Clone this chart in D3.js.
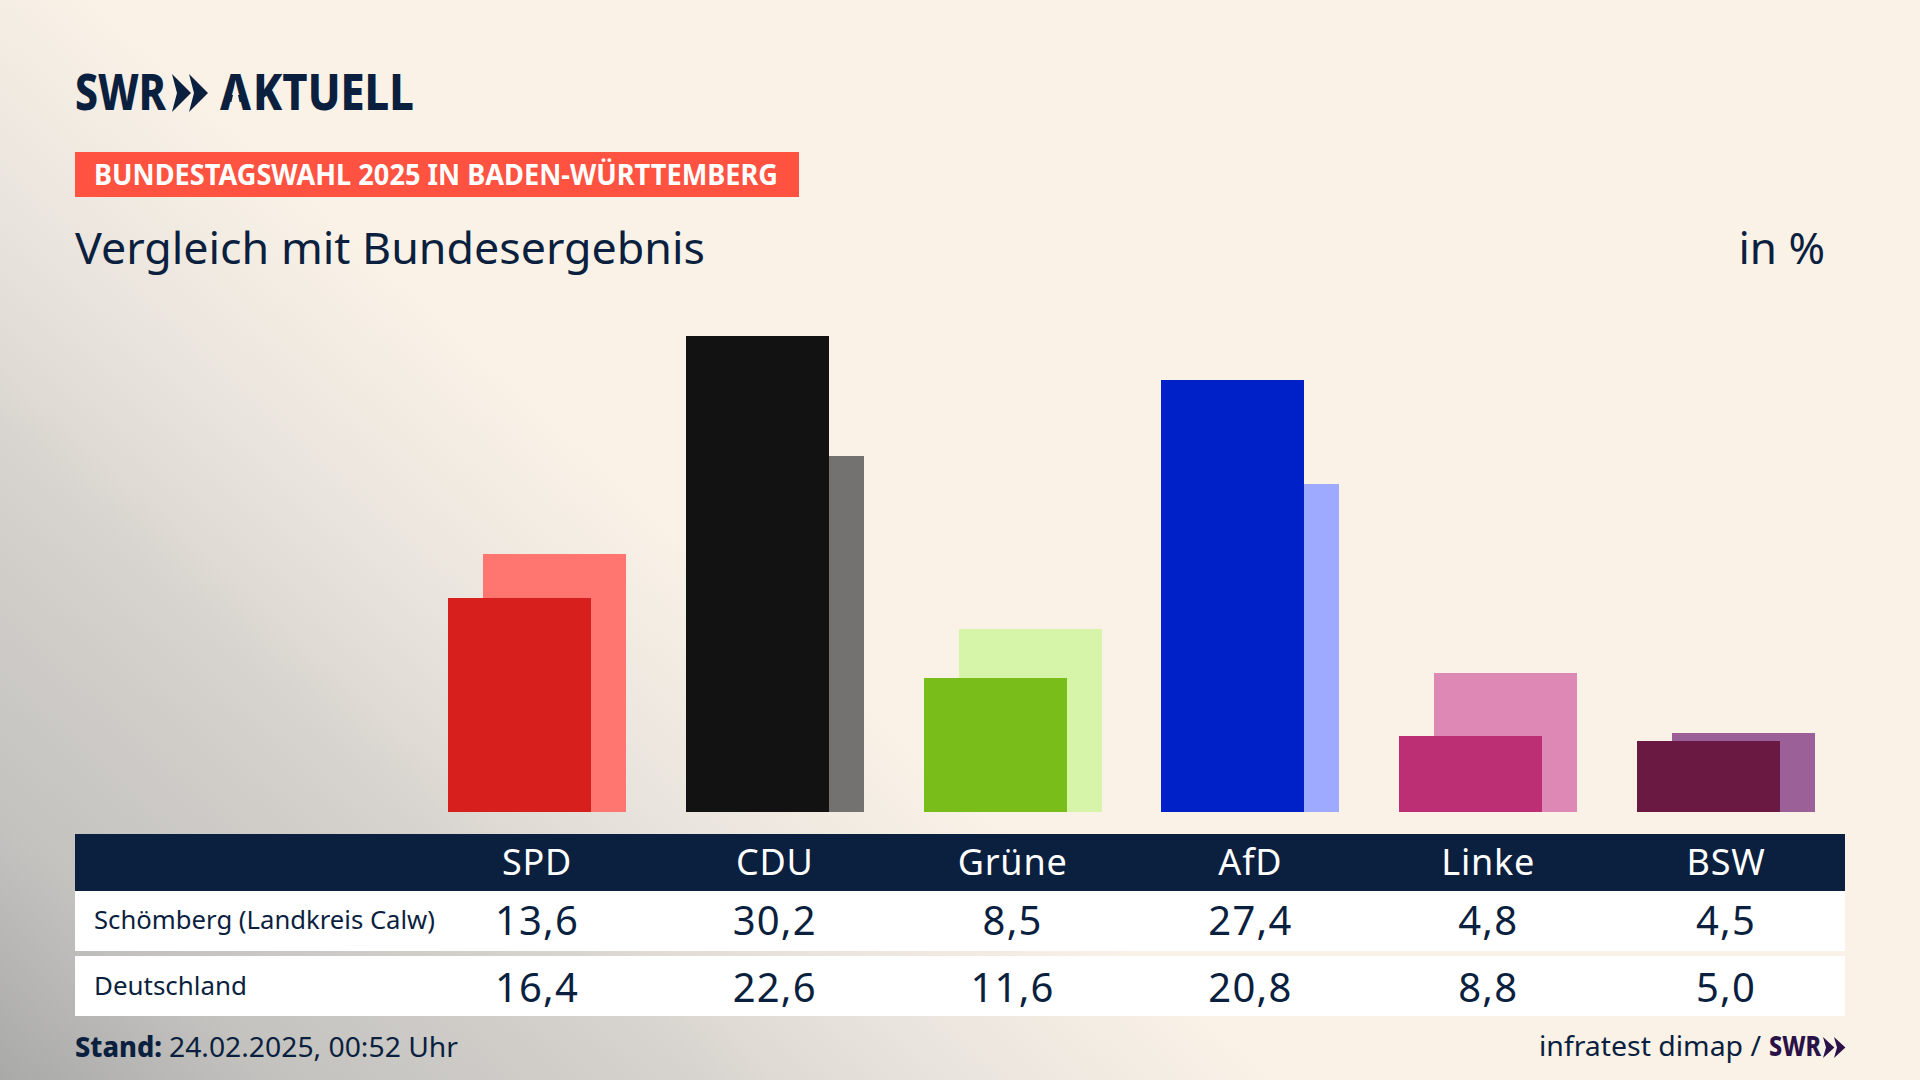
<!DOCTYPE html>
<html>
<head>
<meta charset="utf-8">
<script src="https://cdn.jsdelivr.net/npm/d3@7"></script>
<style>
  html, body { margin: 0; padding: 0; background: #faf2e7; }
  svg { display: block; }
  text { font-family: "Noto Sans", sans-serif; fill: #0b1f3f; }
</style>
</head>
<body>
<svg id="chart"></svg>
<script>
// data
const parties = ["SPD", "CDU", "Grüne", "AfD", "Linke", "BSW"];
const localValues = [13.6, 30.2, 8.5, 27.4, 4.8, 4.5];
const nationalValues = [16.4, 22.6, 11.6, 20.8, 8.8, 5.0];
const localColors = ["#d7201e", "#121212", "#79bd1a", "#0020c8", "#bc2f75", "#6a1a42"];
const nationalColors = ["#ff7670", "#737270", "#d6f5a8", "#9eaaff", "#de88b6", "#9b6097"];
const rowLabels = ["Schömberg (Landkreis Calw)", "Deutschland"];

const width = 1920;
const height = 1080;
const navy = "#0b1f3f";
const cream = "#faf2e7";

const svg = d3.select("#chart").attr("width", width).attr("height", height);

// background, grey corner fading out along the diagonal
const defs = svg.append("defs");
const bg = defs.append("linearGradient")
    .attr("id", "bg")
    .attr("gradientUnits", "userSpaceOnUse")
    .attr("x1", 583).attr("y1", 441)
    .attr("x2", 0).attr("y2", 1080);
[[0, cream], [0.25, "#e9e4dd"], [0.39, "#dfdad4"], [0.44, "#d8d4cf"], [0.78, "#c3c2bf"], [1, "#a9a9a8"]].forEach(s => {
  bg.append("stop").attr("offset", s[0]).attr("stop-color", s[1]);
});
svg.append("rect").attr("width", width).attr("height", height).attr("fill", "url(#bg)");

// scales
const x = d3.scaleBand()
    .domain(parties)
    .range([448, 1815])
    .paddingInner(0.2515)
    .paddingOuter(0);
const y = d3.scaleLinear().domain([0, 30.2]).range([812, 336]);
const barWidth = 143;
const backShift = x.bandwidth() - barWidth;

// bars, national result sits behind the local one
svg.append("g").attr("shape-rendering", "crispEdges").selectAll("rect")
    .data(parties)
    .enter()
    .append("rect")
    .attr("x", d => x(d) + backShift)
    .attr("y", (d, i) => y(nationalValues[i]))
    .attr("width", barWidth)
    .attr("height", (d, i) => y(0) - y(nationalValues[i]))
    .attr("fill", (d, i) => nationalColors[i]);

svg.append("g").attr("shape-rendering", "crispEdges").selectAll("rect")
    .data(parties)
    .enter()
    .append("rect")
    .attr("x", d => x(d))
    .attr("y", (d, i) => y(localValues[i]))
    .attr("width", barWidth)
    .attr("height", (d, i) => y(0) - y(localValues[i]))
    .attr("fill", (d, i) => localColors[i]);

// logo
svg.append("text").attr("x", 75).attr("y", 110)
    .attr("font-size", 49).attr("font-weight", 800)
    .attr("textLength", 91).attr("lengthAdjust", "spacingAndGlyphs")
    .text("SWR");
const chevron = "M0 0 L19 19 L0 38 L5 19 Z";
svg.append("g").selectAll("path").data([172, 189]).enter().append("path")
    .attr("d", chevron)
    .attr("transform", d => "translate(" + d + ",74)")
    .attr("fill", navy);
const aktuell = svg.append("text").attr("y", 110)
    .attr("font-size", 49).attr("font-weight", 800);
aktuell.append("tspan").attr("x", 220)
    .attr("textLength", 31).attr("lengthAdjust", "spacingAndGlyphs")
    .text("A");
aktuell.append("tspan").attr("x", 253)
    .attr("textLength", 161).attr("lengthAdjust", "spacingAndGlyphs")
    .text("KTUELL");
// the logo's A has no crossbar
svg.append("path").attr("d", "M235.5 84 L229.5 110.5 L241.5 110.5 Z").attr("fill", cream);

// banner and titles
svg.append("rect").attr("x", 75).attr("y", 152).attr("width", 724).attr("height", 45).attr("fill", "#ff5240");
svg.append("text").attr("x", 94).attr("y", 185)
    .attr("font-size", 28).attr("font-weight", 700)
    .attr("textLength", 684).attr("lengthAdjust", "spacingAndGlyphs")
    .style("fill", "#fff")
    .text("BUNDESTAGSWAHL 2025 IN BADEN-WÜRTTEMBERG");
svg.append("text").attr("x", 75).attr("y", 264)
    .attr("font-size", 44)
    .attr("textLength", 630).attr("lengthAdjust", "spacingAndGlyphs")
    .text("Vergleich mit Bundesergebnis");
svg.append("text").attr("x", 1825).attr("y", 264)
    .attr("font-size", 44).attr("text-anchor", "end")
    .text("in %");

// table
svg.append("rect").attr("x", 75).attr("y", 834).attr("width", 1770).attr("height", 57).attr("fill", navy);
svg.append("rect").attr("x", 75).attr("y", 891).attr("width", 1770).attr("height", 60).attr("fill", "#fff");
svg.append("rect").attr("x", 75).attr("y", 956).attr("width", 1770).attr("height", 60).attr("fill", "#fff");

// party names come from the band scale
const labelAxis = d3.axisBottom(x).tickSize(0).tickPadding(0);
const axisG = svg.append("g").call(labelAxis);
axisG.select(".domain").remove();
axisG.selectAll("text")
    .attr("y", 875)
    .attr("dy", 0)
    .attr("font-size", 36)
    .attr("font-family", "Noto Sans")
    .style("letter-spacing", "0.8px")
    .style("fill", "#fff");

const fmt = v => v.toFixed(1).replace(".", ",");
[localValues, nationalValues].forEach((vals, r) => {
  svg.append("g").selectAll("text")
      .data(vals)
      .enter()
      .append("text")
      .attr("x", (d, i) => x(parties[i]) + x.bandwidth() / 2)
      .attr("y", r == 0 ? 935 : 1002)
      .attr("text-anchor", "middle")
      .attr("font-size", 40)
      .style("letter-spacing", "1.2px")
      .text(fmt);
});
svg.append("text").attr("x", 94).attr("y", 929)
    .attr("font-size", 25)
    .attr("textLength", 341).attr("lengthAdjust", "spacingAndGlyphs")
    .text(rowLabels[0]);
svg.append("text").attr("x", 94).attr("y", 995)
    .attr("font-size", 25)
    .attr("textLength", 153).attr("lengthAdjust", "spacingAndGlyphs")
    .text(rowLabels[1]);

// footer
svg.append("text").attr("x", 75).attr("y", 1057)
    .attr("font-size", 28).attr("font-weight", 800)
    .attr("textLength", 87).attr("lengthAdjust", "spacingAndGlyphs")
    .text("Stand:");
svg.append("text").attr("x", 169).attr("y", 1057)
    .attr("font-size", 28)
    .attr("textLength", 289).attr("lengthAdjust", "spacingAndGlyphs")
    .text("24.02.2025, 00:52 Uhr");
svg.append("text").attr("x", 1539).attr("y", 1056)
    .attr("font-size", 28)
    .attr("textLength", 222).attr("lengthAdjust", "spacingAndGlyphs")
    .text("infratest dimap /");
svg.append("text").attr("x", 1769).attr("y", 1056)
    .attr("font-size", 28).attr("font-weight", 800)
    .attr("textLength", 52).attr("lengthAdjust", "spacingAndGlyphs")
    .style("fill", "#2a1248")
    .text("SWR");
svg.append("g").selectAll("path").data([1823, 1834]).enter().append("path")
    .attr("d", chevron)
    .attr("transform", d => "translate(" + d + ",1037) scale(0.6,0.55)")
    .attr("fill", "#2a1248");
</script>
</body>
</html>
